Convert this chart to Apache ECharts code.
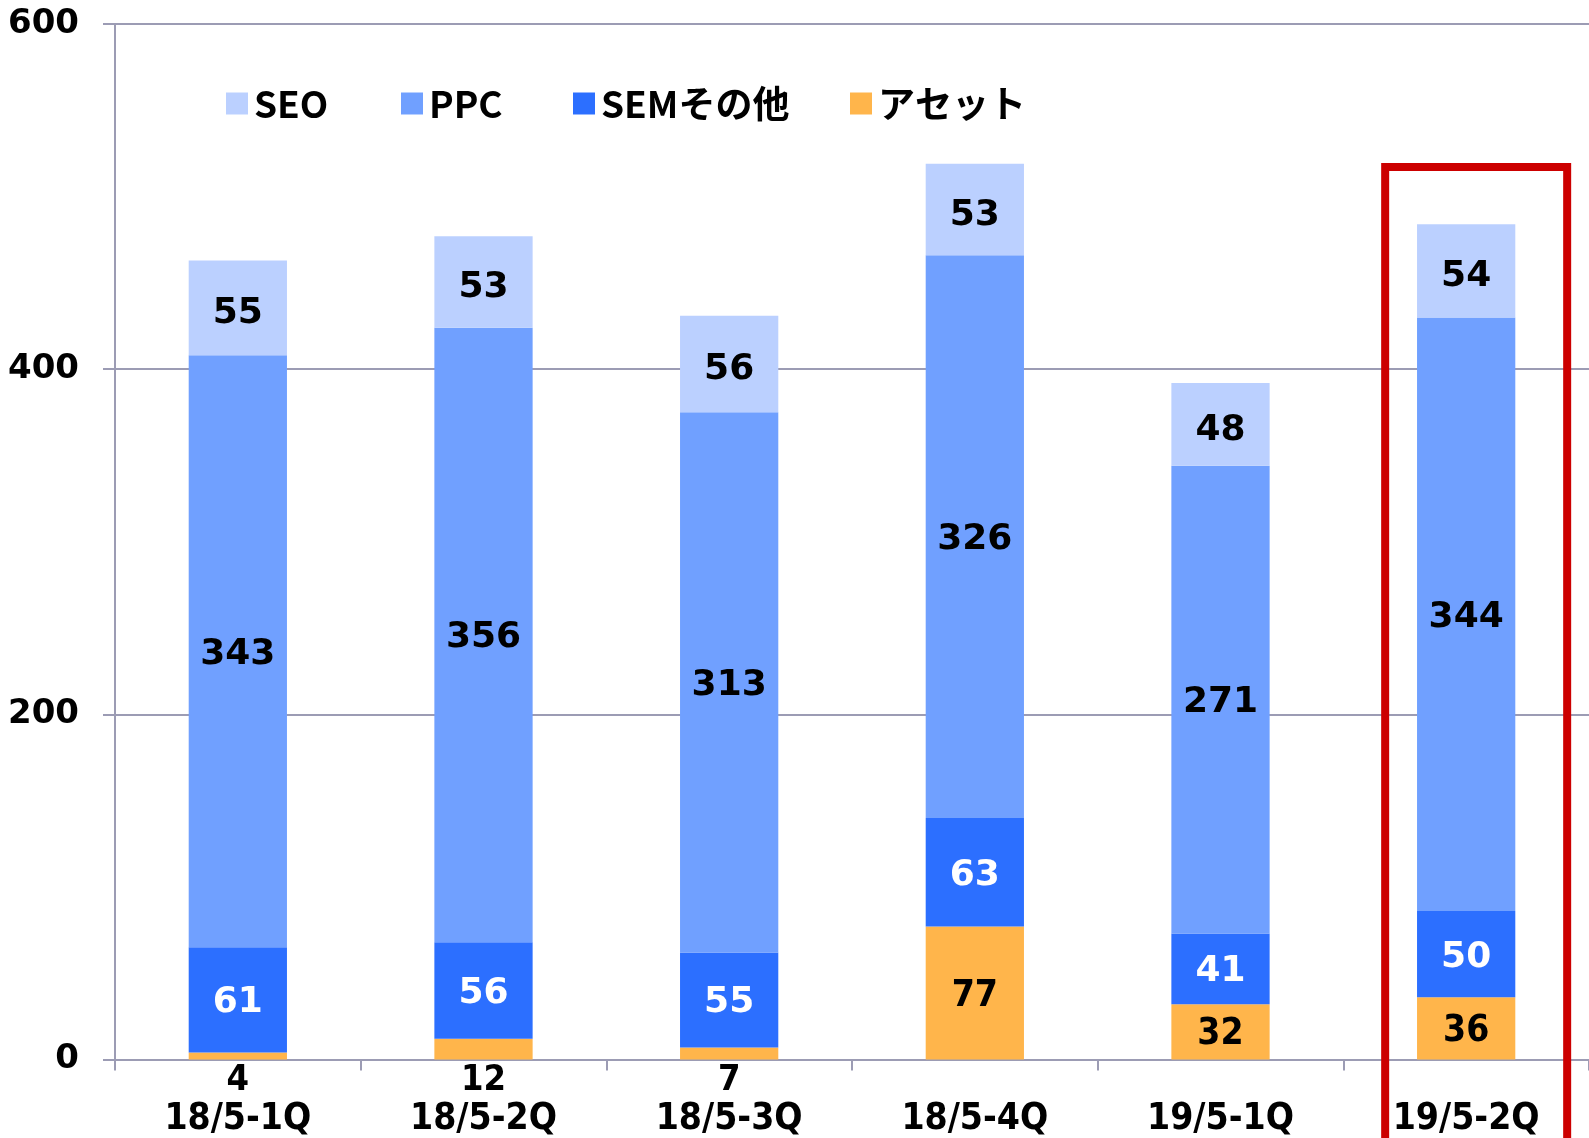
<!DOCTYPE html>
<html>
<head>
<meta charset="utf-8">
<script src="https://cdn.jsdelivr.net/npm/echarts@6/dist/echarts.min.js"></script>
<style>
html,body{margin:0;padding:0;background:#fff;}
#main{width:1589px;height:1138px;}
</style>
</head>
<body>
<div id="main"></div>
<script>
const categories = ['18/5-1Q','18/5-2Q','18/5-3Q','18/5-4Q','19/5-1Q','19/5-2Q'];
const seriesNames = ['SEO','PPC','SEMその他','アセット'];
const assetValues = [4,12,7,77,32,36];
const semValues = [61,56,55,63,41,50];
const ppcValues = [343,356,313,326,271,344];
const seoValues = [55,53,56,53,48,54];
const yTicks = {min:0, max:600, interval:200};
const highlightCategory = '19/5-2Q';

const colors = {SEO:'#BBD0FF', PPC:'#70A0FF', SEM:'#2C6FFF', ASSET:'#FFB54B'};
const gridColor = '#9C9CB4';
const boldFont = 'DejaVu Sans';
const condFont = 'DejaVu Sans Condensed';

const inLabel = (color, font) => ({show:true, position:'inside', offset:[0,3], color:color, fontFamily:font, fontWeight:'bold', fontSize:36});

const assetData = assetValues.map(v => v < 20 ? {
  value:v,
  label:{show:true, position:'bottom', distance:6, lineHeight:30, formatter:'{c}', color:'#000', fontFamily:condFont, fontWeight:'bold', fontSize:36}
} : {
  value:v,
  label:{show:true, position:'inside', offset:[0,3], formatter:'{c}', color:'#000', fontFamily:condFont, fontWeight:'bold', fontSize:37}
});

const legendLefts = [221, 396, 568, 845];
const legendTextStyle = {fontFamily:'Noto Sans CJK JP', fontWeight:'bold', fontSize:37, color:'#000', padding:[0,0,0,1]};
const legends = seriesNames.map((n, i) => ({
  data:[n], left:legendLefts[i], top:80,
  itemWidth:22, itemHeight:22, icon:'rect', textStyle:legendTextStyle
}));

const chart = echarts.init(document.getElementById('main'));
chart.setOption({
  animation:false,
  backgroundColor:'#fff',
  grid:{left:115, right:-4, top:24, bottom:78, containLabel:false},
  legend:legends,
  xAxis:{
    type:'category', data:categories,
    axisLine:{lineStyle:{color:gridColor, width:2}},
    axisTick:{show:true, length:11, lineStyle:{color:gridColor, width:2}},
    axisLabel:{margin:42, color:'#000', fontFamily:condFont, fontWeight:'bold', fontSize:37, lineHeight:36}
  },
  yAxis:{
    type:'value', min:yTicks.min, max:yTicks.max, interval:yTicks.interval,
    axisLine:{show:true, lineStyle:{color:gridColor, width:2}},
    axisTick:{show:true, length:12, lineStyle:{color:gridColor, width:2}},
    splitLine:{lineStyle:{color:gridColor, width:2}},
    axisLabel:{margin:36, color:'#000', fontFamily:boldFont, fontWeight:'bold', fontSize:34}
  },
  series:[
    {name:'アセット', type:'bar', stack:'t', barWidth:'40%', data:assetData,
     itemStyle:{color:colors.ASSET}},
    {name:'SEMその他', type:'bar', stack:'t', data:semValues, itemStyle:{color:colors.SEM}, label:inLabel('#fff', boldFont)},
    {name:'PPC', type:'bar', stack:'t', data:ppcValues, itemStyle:{color:colors.PPC}, label:inLabel('#000', boldFont)},
    {name:'SEO', type:'bar', stack:'t', data:seoValues, itemStyle:{color:colors.SEO}, label:Object.assign(inLabel('#000', boldFont), {offset:[0,6]})}
  ],
  color:[colors.ASSET, colors.SEM, colors.PPC, colors.SEO]
});

// red highlight box around the last category
const cx = chart.convertToPixel({xAxisIndex:0}, highlightCategory);
chart.setOption({
  graphic:[{
    type:'rect',
    shape:{x:cx - 81, y:167, width:182, height:1100},
    style:{fill:'none', stroke:'#CC0000', lineWidth:8},
    z:100
  }]
});
</script>
</body>
</html>
